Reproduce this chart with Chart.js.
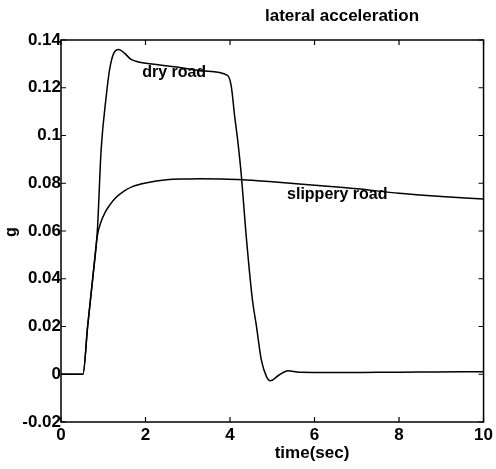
<!DOCTYPE html>
<html>
<head>
<meta charset="utf-8">
<script src="https://cdn.jsdelivr.net/npm/chart.js@4.4.1/dist/chart.umd.min.js"></script>
<style>
  html, body { margin: 0; padding: 0; background: #fff; }
  #wrap { width: 496px; height: 469px; position: relative; }
</style>
</head>
<body>
<div id="wrap"><canvas id="accelChart"></canvas></div>
<script>
// values (time in sec, lateral acceleration in g)
const dryTime = [0, 0.52, 0.63, 0.75, 0.86, 0.95, 1.07, 1.15, 1.25, 1.37, 1.5, 1.65, 1.81, 2.2, 2.8, 3.4, 3.94, 4.03, 4.11, 4.18, 4.27, 4.37, 4.53, 4.62, 4.74, 4.86, 4.95, 5.17, 5.37, 5.64, 6.5, 7.5, 8.5, 9.5, 10];
const dryValues = [0, 0, 0.02, 0.04, 0.06, 0.0941, 0.1164, 0.1276, 0.1345, 0.136, 0.1345, 0.132, 0.1309, 0.1298, 0.1285, 0.127, 0.1252, 0.1206, 0.108, 0.0983, 0.0829, 0.0606, 0.0312, 0.0208, 0.0061, -0.0009, -0.0027, -0.0002, 0.0015, 0.0008, 0.0007, 0.0008, 0.0009, 0.001, 0.001];

const slipTime = [0, 0.52, 0.63, 0.75, 0.86, 0.95, 1.05, 1.14, 1.3, 1.5, 1.69, 2.0, 2.5, 3.0, 3.28, 3.8, 4.29, 5.0, 6.0, 7.0, 8.0, 9.0, 10];
const slipValues = [0, 0, 0.02, 0.04, 0.058, 0.064, 0.068, 0.0705, 0.074, 0.0768, 0.0786, 0.0801, 0.0815, 0.0818, 0.0819, 0.0818, 0.0815, 0.0806, 0.0792, 0.0777, 0.0758, 0.0745, 0.0734];

const xTicks = [0, 2, 4, 6, 8, 10];
const yTicks = [-0.02, 0, 0.02, 0.04, 0.06, 0.08, 0.1, 0.12, 0.14];

const FAMILY = "'Liberation Sans', Arial, sans-serif";
const FONT = { family: FAMILY, size: 17, weight: 'bold' };

const toPoints = (xs, ys) => xs.map((x, i) => ({ x: x, y: ys[i] }));

// frame, inward ticks and the texts around the plot
const framePlugin = {
    id: 'frame',
    afterDraw(chart) {
        const { ctx, chartArea: a, scales } = chart;
        ctx.save();
        ctx.strokeStyle = '#000';
        ctx.lineWidth = 1.5;
        ctx.strokeRect(a.left, a.top, a.right - a.left, a.bottom - a.top);

        ctx.lineWidth = 1.2;
        ctx.beginPath();
        xTicks.forEach(v => {
            const px = scales.x.getPixelForValue(v);
            ctx.moveTo(px, a.bottom); ctx.lineTo(px, a.bottom - 5);
            ctx.moveTo(px, a.top); ctx.lineTo(px, a.top + 5);
        });
        yTicks.forEach(v => {
            const py = scales.y.getPixelForValue(v);
            ctx.moveTo(a.left, py); ctx.lineTo(a.left + 5, py);
            ctx.moveTo(a.right, py); ctx.lineTo(a.right - 5, py);
        });
        ctx.stroke();

        ctx.fillStyle = '#000';
        ctx.font = `bold 17px ${FAMILY}`;
        ctx.textBaseline = 'middle';
        ctx.textAlign = 'center';
        ctx.fillText('lateral acceleration', 342, 16);
        ctx.fillText('time(sec)', 312, 453);

        ctx.font = `bold 16px ${FAMILY}`;
        ctx.textAlign = 'left';
        ctx.fillText('dry road', scales.x.getPixelForValue(1.92), scales.y.getPixelForValue(0.1262));
        ctx.fillText('slippery road', scales.x.getPixelForValue(5.35), scales.y.getPixelForValue(0.0753));

        ctx.translate(12, 232);
        ctx.rotate(-Math.PI / 2);
        ctx.textAlign = 'center';
        ctx.fillText('g', 0, 0);
        ctx.restore();
    }
};

new Chart(document.getElementById('accelChart'), {
    type: 'line',
    data: {
        datasets: [
            {
                label: 'dry road',
                data: toPoints(dryTime, dryValues),
                borderColor: '#000',
                borderWidth: 1.5,
                pointRadius: 0,
                cubicInterpolationMode: 'monotone'
            },
            {
                label: 'slippery road',
                data: toPoints(slipTime, slipValues),
                borderColor: '#000',
                borderWidth: 1.5,
                pointRadius: 0,
                cubicInterpolationMode: 'monotone'
            }
        ]
    },
    options: {
        responsive: true,
        maintainAspectRatio: false,
        animation: false,
        layout: { padding: { top: 40, right: 12, left: 0, bottom: 0 } },
        plugins: {
            legend: { display: false },
            tooltip: { enabled: false }
        },
        scales: {
            x: {
                type: 'linear',
                min: 0,
                max: 10,
                afterBuildTicks: scale => { scale.ticks = xTicks.map(v => ({ value: v })); },
                afterFit: scale => { scale.height = 47; },
                grid: { display: false, drawTicks: false },
                border: { display: false },
                ticks: { color: '#000', font: FONT, padding: 3, maxRotation: 0, autoSkip: false, callback: v => String(v) }
            },
            y: {
                min: -0.02,
                max: 0.14,
                afterBuildTicks: scale => { scale.ticks = yTicks.map(v => ({ value: v })); },
                afterFit: scale => { scale.width = 61; },
                grid: { display: false, drawTicks: false },
                border: { display: false },
                ticks: { color: '#000', font: FONT, padding: 0, autoSkip: false, callback: v => String(+v.toFixed(2)) }
            }
        }
    },
    plugins: [framePlugin]
});
</script>
</body>
</html>
